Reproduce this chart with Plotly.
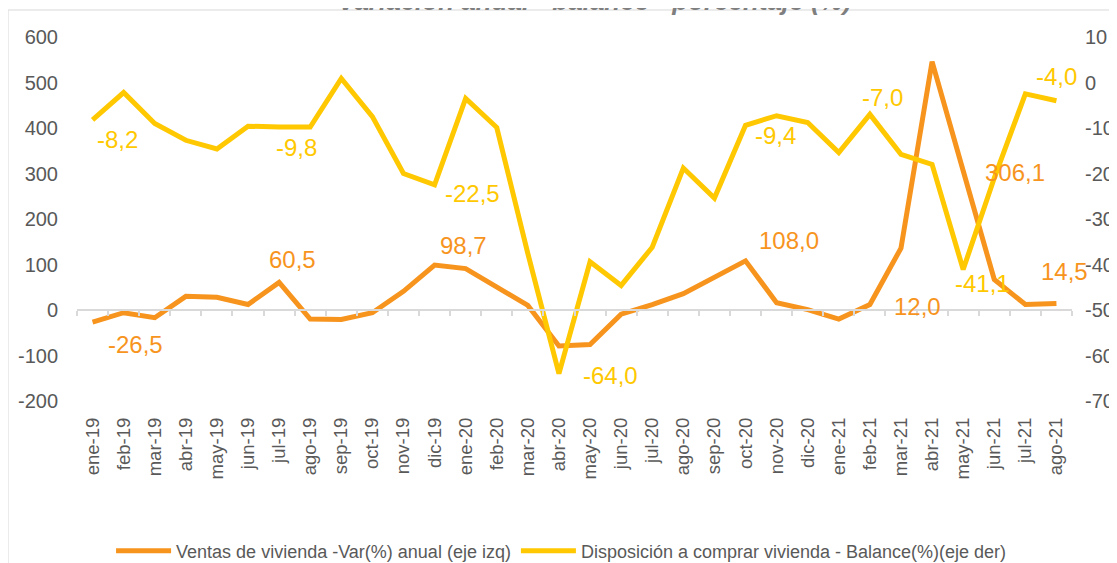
import plotly.graph_objects as go

meses = ["ene-19", "feb-19", "mar-19", "abr-19", "may-19", "jun-19", "jul-19", "ago-19",
         "sep-19", "oct-19", "nov-19", "dic-19", "ene-20", "feb-20", "mar-20", "abr-20",
         "may-20", "jun-20", "jul-20", "ago-20", "sep-20", "oct-20", "nov-20", "dic-20",
         "ene-21", "feb-21", "mar-21", "abr-21", "may-21", "jun-21", "jul-21", "ago-21"]

ventas = [-26.5, -6, -17, 30, 28, 12, 60.5, -20, -21, -6, 41, 98.7, 91, 49, 10, -79,
          -76, -9, 12, 36, 73, 108.0, 16, 1, -20, 12.0, 136, 546, 306.1, 67, 12, 14.5]

disposicion = [-8.2, -2.2, -9.0, -12.7, -14.6, -9.6, -9.8, -9.8, 0.9, -7.5, -20.0, -22.5,
               -3.5, -9.9, -37.6, -64.0, -39.4, -44.6, -36.2, -18.8, -25.4, -9.4, -7.3, -8.8,
               -15.4, -7.0, -15.8, -18.0, -41.1, -21.0, -2.5, -4.0]

ticks_izq = [-200, -100, 0, 100, 200, 300, 400, 500, 600]
ticks_der = [-70, -60, -50, -40, -30, -20, -10, 0, 10]

# months whose values are labelled
etiquetas_ventas = ["ene-19", "jul-19", "dic-19", "oct-20", "feb-21", "may-21", "ago-21"]
etiquetas_disp = ["ene-19", "jul-19", "dic-19", "abr-20", "oct-20", "feb-21", "may-21", "ago-21"]

# label offsets in px (dx right, dy down) — styling only
off_ventas = [(43, 22), (13, -23), (29, -20), (43, -20), (48, 2), (52, 2), (8, -32)]
off_disp = [(25, 20), (17, 20), (38, 9), (52, 2), (30, 10), (13, -17), (19, 14), (0, -24)]

NARANJA = "#F7941E"
AMARILLO = "#FFC800"
GRIS = "#595959"
FONT = "Liberation Sans, Arial, sans-serif"

def fmt(v):
    return f"{v:.1f}".replace(".", ",")

fig = go.Figure()
fig.add_trace(go.Scatter(x=meses, y=ventas, mode="lines", name="Ventas de vivienda -Var(%) anual (eje izq)",
                         line=dict(color=NARANJA, width=5), yaxis="y", xaxis="x"))
fig.add_trace(go.Scatter(x=meses, y=disposicion, mode="lines",
                         name="Disposición a comprar vivienda - Balance(%)(eje der)",
                         line=dict(color=AMARILLO, width=5), yaxis="y2", xaxis="x"))
# invisible helper trace for the zero baseline axis
fig.add_trace(go.Scatter(x=meses, y=ventas, mode="lines", line=dict(width=0), opacity=0,
                         showlegend=False, hoverinfo="skip", xaxis="x2", yaxis="y"))

ann = []
for m, (dx, dy) in zip(etiquetas_ventas, off_ventas):
    v = ventas[meses.index(m)]
    ann.append(dict(x=m, y=v, xref="x", yref="y", text=fmt(v), showarrow=False,
                    xshift=dx, yshift=-dy, font=dict(family=FONT, size=24, color=NARANJA)))
for m, (dx, dy) in zip(etiquetas_disp, off_disp):
    v = disposicion[meses.index(m)]
    ann.append(dict(x=m, y=v, xref="x", yref="y2", text=fmt(v), showarrow=False,
                    xshift=dx, yshift=-dy, font=dict(family=FONT, size=24, color=AMARILLO)))
# partially visible title at top edge
ann.append(dict(x=0.5206, y=1.099, xref="paper", yref="paper", xanchor="center", yanchor="middle",
                text="<b><i>Variación anual - balance - porcentaje (%)</i></b>", showarrow=False,
                font=dict(family=FONT, size=26, color="#7f7f7f")))

fig.update_layout(
    width=1109, height=555,
    margin=dict(l=69, r=45, t=29, b=162, autoexpand=False),
    paper_bgcolor="white", plot_bgcolor="white",
    font=dict(family=FONT, color=GRIS, size=19),
    xaxis=dict(type="category", categoryorder="array", categoryarray=meses, range=[-0.5, 31.5],
               showgrid=False, showline=False, zeroline=False, ticks="", tickangle=-90,
               tickfont=dict(size=18.5, color=GRIS), ticklabelstandoff=12, automargin=False),
    xaxis2=dict(type="category", categoryorder="array", categoryarray=meses, range=[-0.5, 31.5],
                overlaying="x", anchor="free", position=0.25, side="bottom",
                showgrid=False, showline=True, linecolor="#d9d9d9", linewidth=1.5,
                ticks="outside", tickson="boundaries", ticklen=5, tickcolor="#d9d9d9", tickwidth=1.5,
                showticklabels=False, zeroline=False, automargin=False),
    yaxis=dict(range=[-200, 600], tickmode="array", tickvals=ticks_izq,
               ticktext=[str(t) for t in ticks_izq], showgrid=False, zeroline=False, showline=False,
               ticks="", tickfont=dict(size=20, color=GRIS), ticklabelstandoff=18, automargin=False),
    yaxis2=dict(range=[-70, 10], tickmode="array", tickvals=ticks_der,
                ticktext=[str(t) for t in ticks_der], overlaying="y", side="right", showgrid=False,
                zeroline=False, showline=False, ticks="", tickfont=dict(size=20, color=GRIS),
                ticklabelstandoff=12, automargin=False),
    legend=dict(orientation="h", x=0.487, xanchor="center", y=-0.412, yanchor="middle",
                font=dict(size=18, color=GRIS), itemwidth=55, tracegroupgap=0),
    annotations=ann,
    shapes=[dict(type="rect", xref="paper", yref="paper", x0=-0.0693, x1=1.06, y0=-0.5, y1=1.0742,
                 line=dict(color="#d9d9d9", width=1), fillcolor="rgba(0,0,0,0)", layer="below")],
    showlegend=True,
)

fig.write_html("out.html")
